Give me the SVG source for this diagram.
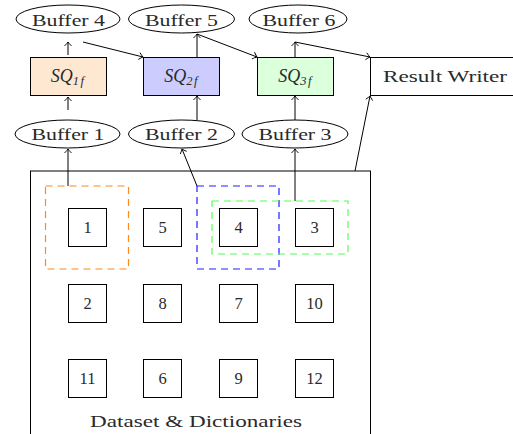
<svg xmlns="http://www.w3.org/2000/svg" width="513" height="434" viewBox="0 0 513 434">
<style>
  .t { font-family: "Liberation Serif", "DejaVu Serif", serif; font-size: 16.5px; fill: #2a2a2a; text-anchor: middle; }
  .it { font-style: italic; font-size: 18px; }
  .sub { font-size: 12.5px; letter-spacing: 1.5px; }
  .buf { fill: #fff; stroke: #000; stroke-width: 1; }
  .box { stroke: #000; stroke-width: 1; }
  .sq { fill: #fff; stroke: #000; stroke-width: 1; }
  .dash { fill: none; stroke-width: 1.2; stroke-dasharray: 7 5; }
  .c { fill: none; stroke: #000; stroke-width: 1; marker-end: url(#ah); }
</style>
<defs>
  <marker id="ah" markerUnits="userSpaceOnUse" markerWidth="12" markerHeight="12" refX="0" refY="0" viewBox="-6 -6 12 12" orient="auto">
    <path d="M-4,-3.5 Q-1.5,-1 0,0 Q-1.5,1 -4,3.5" fill="none" stroke="#000" stroke-width="0.9"/>
  </marker>
</defs>

<g id="dataset">
  <rect x="30.5" y="171" width="340" height="280" fill="#fff" stroke="#000" stroke-width="1"/>
  <text class="t" x="196" y="427" textLength="212" lengthAdjust="spacingAndGlyphs">Dataset &amp; Dictionaries</text>
</g>

<g id="buffer4"><ellipse class="buf" cx="68" cy="19" rx="52" ry="14"/><text class="t" x="68.5" y="26" textLength="73" lengthAdjust="spacingAndGlyphs">Buffer 4</text></g>
<g id="buffer5"><ellipse class="buf" cx="181.5" cy="19" rx="53" ry="14"/><text class="t" x="181.5" y="26" textLength="73" lengthAdjust="spacingAndGlyphs">Buffer 5</text></g>
<g id="buffer6"><ellipse class="buf" cx="298" cy="19" rx="49" ry="14"/><text class="t" x="299" y="26" textLength="73" lengthAdjust="spacingAndGlyphs">Buffer 6</text></g>

<g id="buffer1"><ellipse class="buf" cx="67.5" cy="134" rx="52.5" ry="14"/><text class="t" x="68" y="140" textLength="73" lengthAdjust="spacingAndGlyphs">Buffer 1</text></g>
<g id="buffer2"><ellipse class="buf" cx="181.5" cy="134" rx="53" ry="14"/><text class="t" x="181.5" y="140" textLength="73" lengthAdjust="spacingAndGlyphs">Buffer 2</text></g>
<g id="buffer3"><ellipse class="buf" cx="295" cy="134" rx="53" ry="14"/><text class="t" x="295" y="140" textLength="73" lengthAdjust="spacingAndGlyphs">Buffer 3</text></g>

<g id="sq1f"><rect class="box" x="30.5" y="57.5" width="76" height="38" fill="#FFE8D2"/><text class="t it" x="68" y="82">SQ<tspan class="sub" dy="3">1f</tspan></text></g>
<g id="sq2f"><rect class="box" x="143.5" y="57.5" width="76" height="38" fill="#CCCCFF"/><text class="t it" x="181.5" y="82">SQ<tspan class="sub" dy="3">2f</tspan></text></g>
<g id="sq3f"><rect class="box" x="257.5" y="57.5" width="76" height="38" fill="#DCFFDC"/><text class="t it" x="295.5" y="82">SQ<tspan class="sub" dy="3">3f</tspan></text></g>

<g id="result-writer"><rect class="box" x="370.5" y="57.5" width="150" height="38" fill="#fff"/><text class="t" x="445" y="82" textLength="124" lengthAdjust="spacingAndGlyphs">Result Writer</text></g>

<g id="groups">
  <rect class="dash" x="45.5" y="186" width="83" height="83" stroke="#FF8A1A"/>
  <rect class="dash" x="197" y="186" width="82" height="83" stroke="#2020FF"/>
  <rect class="dash" x="212" y="201" width="136" height="53" stroke="#55FF55"/>
</g>

<g id="items">
  <g id="n1"><rect class="sq" x="68.5" y="208.5" width="38" height="38"/><text class="t" x="87.5" y="233">1</text></g>
  <g id="n5"><rect class="sq" x="143.5" y="208.5" width="38" height="38"/><text class="t" x="162.5" y="233">5</text></g>
  <g id="n4"><rect class="sq" x="219.5" y="208.5" width="38" height="38"/><text class="t" x="238.5" y="233">4</text></g>
  <g id="n3"><rect class="sq" x="295.5" y="208.5" width="38" height="38"/><text class="t" x="314.5" y="233">3</text></g>
  <g id="n2"><rect class="sq" x="68.5" y="284.5" width="38" height="38"/><text class="t" x="87.5" y="309">2</text></g>
  <g id="n8"><rect class="sq" x="143.5" y="284.5" width="38" height="38"/><text class="t" x="162.5" y="309">8</text></g>
  <g id="n7"><rect class="sq" x="219.5" y="284.5" width="38" height="38"/><text class="t" x="238.5" y="309">7</text></g>
  <g id="n10"><rect class="sq" x="295.5" y="284.5" width="38" height="38"/><text class="t" x="314.5" y="309">10</text></g>
  <g id="n11"><rect class="sq" x="68.5" y="359.5" width="38" height="38"/><text class="t" x="87.5" y="384">11</text></g>
  <g id="n6"><rect class="sq" x="143.5" y="359.5" width="38" height="38"/><text class="t" x="162.5" y="384">6</text></g>
  <g id="n9"><rect class="sq" x="219.5" y="359.5" width="38" height="38"/><text class="t" x="238.5" y="384">9</text></g>
  <g id="n12"><rect class="sq" x="295.5" y="359.5" width="38" height="38"/><text class="t" x="314.5" y="384">12</text></g>
</g>

<g id="connectors">
  <path class="c" d="M68,110 L68,97"/>
  <path class="c" d="M68,55 L68,42"/>
  <path class="c" d="M83,42 L143,57"/>
  <path class="c" d="M197,57 L197,34"/>
  <path class="c" d="M197,34 L257,57"/>
  <path class="c" d="M295,57 L295,42"/>
  <path class="c" d="M295,42 L370,57"/>
  <path class="c" d="M197,120 L197,96"/>
  <path class="c" d="M295,120 L295,96"/>
  <path class="c" d="M355,171 L370,96"/>
  <path class="c" d="M68,186 L68,149"/>
  <path class="c" d="M197,186 L182,149"/>
  <path class="c" d="M295,201 L295,149"/>
</g>
</svg>
